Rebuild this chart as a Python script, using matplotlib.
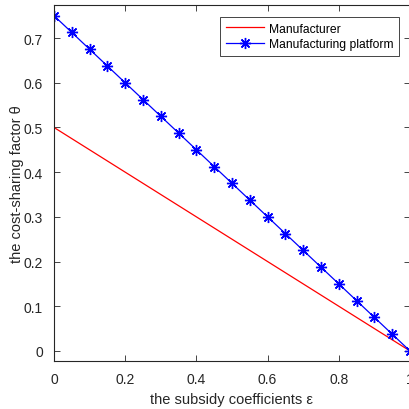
import matplotlib
matplotlib.use("Agg")
import matplotlib.pyplot as plt

eps_line = [0.0, 1.0]
manufacturer = [0.5, 0.0]
eps_pts = [0.0, 0.05, 0.1, 0.15, 0.2, 0.25, 0.3, 0.35, 0.4, 0.45, 0.5,
           0.55, 0.6, 0.65, 0.7, 0.75, 0.8, 0.85, 0.9, 0.95, 1.0]
platform = [0.75, 0.7125, 0.675, 0.6375, 0.6, 0.5625, 0.525, 0.4875, 0.45, 0.4125, 0.375,
            0.3375, 0.3, 0.2625, 0.225, 0.1875, 0.15, 0.1125, 0.075, 0.0375, 0.0]
xticks = [0, 0.2, 0.4, 0.6, 0.8, 1]
yticks = [0, 0.1, 0.2, 0.3, 0.4, 0.5, 0.6, 0.7]

plt.rcParams['font.family'] = ['Liberation Sans', 'DejaVu Sans']
txt = '#262626'

fig = plt.figure(figsize=(4.1, 4.1), dpi=100)
ax = fig.add_axes([54/410, (410-362)/410, 356/410, (362-6)/410])

ax.plot(eps_line, manufacturer, color='red', lw=0.9, label='Manufacturer')
ax.plot(eps_pts, platform, color='blue', lw=0.9, marker=(8, 2, 0), markersize=8,
        markeredgewidth=1.0, label='Manufacturing platform')

ax.set_xlim(0, 1)
ax.set_ylim(-0.0225, 0.774)
ax.set_xticks(xticks)
ax.set_xticklabels(['0', '0.2', '0.4', '0.6', '0.8', '1'])
ax.set_yticks(yticks)
ax.set_yticklabels(['0', '0.1', '0.2', '0.3', '0.4', '0.5', '0.6', '0.7'])
ax.tick_params(direction='in', length=4, width=0.6, top=True, right=True,
               labelsize=10, labelcolor=txt, colors=txt, pad=8)
for s in ax.spines.values():
    s.set_linewidth(0.8)
    s.set_color(txt)

ax.set_xlabel('the subsidy coefficients ε', fontsize=10.5, color=txt, labelpad=4)
ax.set_ylabel('the cost-sharing factor θ', fontsize=10.5, color=txt, labelpad=0)

leg = ax.legend(loc='upper right', bbox_to_anchor=(0.969, 0.966), fontsize=8.7,
                fancybox=False, framealpha=1, edgecolor=txt, borderpad=0.45,
                handlelength=3.2, handletextpad=0.4, labelspacing=0.3,
                borderaxespad=0.0)
leg.get_frame().set_linewidth(0.6)

fig.savefig('out.png', dpi=100)
